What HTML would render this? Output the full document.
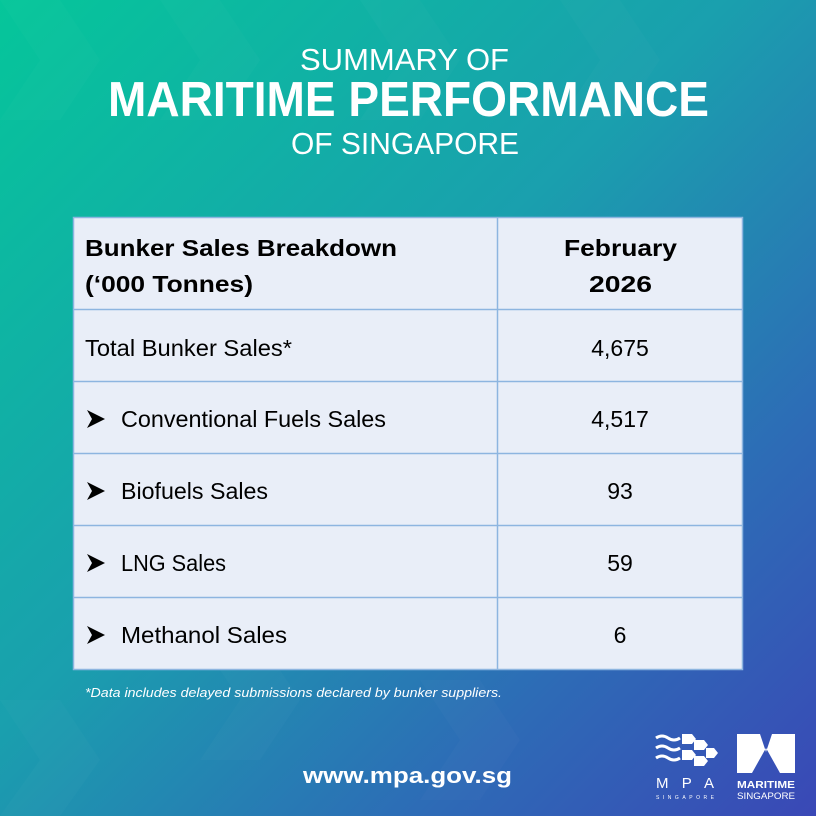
<!DOCTYPE html>
<html><head><meta charset="utf-8"><style>
html,body{margin:0;padding:0;width:816px;height:816px;overflow:hidden}
svg{display:block}
</style></head><body>
<svg width="816" height="816" viewBox="0 0 816 816" xmlns="http://www.w3.org/2000/svg">
<defs>
<linearGradient id="bg" x1="0" y1="0" x2="1" y2="1">
<stop offset="0" stop-color="#05c69a"/>
<stop offset="0.45" stop-color="#1a9fae"/>
<stop offset="0.75" stop-color="#2d6cb6"/>
<stop offset="1" stop-color="#3a48b6"/>
</linearGradient>
</defs>
<rect width="816" height="816" fill="url(#bg)"/>
<g fill="#ffffff" opacity="0.02">
<polygon points="0,0 60,0 100,60 60,120 0,120 40,60"/>
<polygon points="160,0 220,0 260,60 220,120 160,120 200,60"/>
<polygon points="360,0 420,0 460,60 420,120 360,120 400,60"/>
<polygon points="560,0 620,0 660,60 620,120 560,120 600,60"/>
<polygon points="0,700 60,700 100,760 60,816 0,816 40,760"/>
<polygon points="200,640 260,640 300,700 260,760 200,760 240,700"/>
<polygon points="420,680 480,680 520,740 480,800 420,800 460,740"/>
</g>
<g fill="#ffffff" font-family="Liberation Sans Narrow, Liberation Sans, sans-serif">
<text x="300" y="70" font-size="31" textLength="209" lengthAdjust="spacingAndGlyphs">SUMMARY OF</text>
<text x="108" y="116" font-size="49" font-weight="bold" textLength="601" lengthAdjust="spacingAndGlyphs">MARITIME PERFORMANCE</text>
<text x="291" y="154" font-size="31" textLength="228" lengthAdjust="spacingAndGlyphs">OF SINGAPORE</text>
</g>
<rect x="73.5" y="217.5" width="669" height="452" fill="#e9eef8" stroke="#8db5e0" stroke-width="1.5"/>
<g stroke="#8db5e0" stroke-width="1.5">
<line x1="497.5" y1="217" x2="497.5" y2="670"/>
<line x1="73" y1="309.5" x2="743" y2="309.5"/>
<line x1="73" y1="381.5" x2="743" y2="381.5"/>
<line x1="73" y1="453.5" x2="743" y2="453.5"/>
<line x1="73" y1="525.5" x2="743" y2="525.5"/>
<line x1="73" y1="597.5" x2="743" y2="597.5"/>
</g>
<g fill="#000" font-family="Liberation Sans, sans-serif" font-size="23">
<text x="85" y="256" font-weight="bold" textLength="312" lengthAdjust="spacingAndGlyphs">Bunker Sales Breakdown</text>
<text x="85" y="292" font-weight="bold" textLength="168" lengthAdjust="spacingAndGlyphs">(‘000 Tonnes)</text>
<text x="564" y="256" font-weight="bold" textLength="113" lengthAdjust="spacingAndGlyphs">February</text>
<text x="589" y="292" font-weight="bold" textLength="63" lengthAdjust="spacingAndGlyphs">2026</text>
<text x="85" y="356" textLength="207" lengthAdjust="spacingAndGlyphs">Total Bunker Sales*</text>
<text x="620" y="356" text-anchor="middle">4,675</text>
<text x="121" y="427" textLength="265" lengthAdjust="spacingAndGlyphs">Conventional Fuels Sales</text>
<text x="620" y="427" text-anchor="middle">4,517</text>
<text x="121" y="499" textLength="147" lengthAdjust="spacingAndGlyphs">Biofuels Sales</text>
<text x="620" y="499" text-anchor="middle">93</text>
<text x="121" y="571" textLength="105" lengthAdjust="spacingAndGlyphs">LNG Sales</text>
<text x="620" y="571" text-anchor="middle">59</text>
<text x="121" y="643" textLength="166" lengthAdjust="spacingAndGlyphs">Methanol Sales</text>
<text x="620" y="643" text-anchor="middle">6</text>
</g>
<g fill="#000">
<polygon points="87,410 105,419 87,428 92,419"/>
<polygon points="87,482 105,491 87,500 92,491"/>
<polygon points="87,554 105,563 87,572 92,563"/>
<polygon points="87,626 105,635 87,644 92,635"/>
</g>
<text x="85" y="697" fill="#fff" font-family="Liberation Sans Narrow, Liberation Sans, sans-serif" font-style="italic" font-size="13" textLength="417" lengthAdjust="spacingAndGlyphs">*Data includes delayed submissions declared by bunker suppliers.</text>
<text x="303" y="783" fill="#fff" font-family="Liberation Sans, sans-serif" font-weight="bold" font-size="22" textLength="209" lengthAdjust="spacingAndGlyphs">www.mpa.gov.sg</text>
<g stroke="#fff" stroke-width="3" fill="none">
<path d="M656,738 q6,-4 12,0 t12,0"/>
<path d="M656,748 q6,-4 12,0 t12,0"/>
<path d="M656,758 q6,-4 12,0 t12,0"/>
</g>
<g fill="#fff">
<polygon points="682,734 692,734 696,739 692,744 682,744"/>
<polygon points="694,740 704,740 708,745 704,750 694,750"/>
<polygon points="682,750 692,750 696,755 692,760 682,760"/>
<polygon points="694,756 704,756 708,761 704,766 694,766"/>
<polygon points="706,748 714,748 718,753 714,758 706,758"/>
<text x="656" y="788" font-family="Liberation Sans, sans-serif" font-size="15" textLength="58" lengthAdjust="spacing">MPA</text>
<text x="656" y="799" font-family="Liberation Sans, sans-serif" font-size="5" textLength="58" lengthAdjust="spacing">SINGAPORE</text>
<polygon points="737,734 760,734 766,752 772,734 795,734 795,773 780,773 766,748 752,773 737,773"/>
<text x="737" y="788" font-family="Liberation Sans, sans-serif" font-weight="bold" font-size="10" textLength="58" lengthAdjust="spacingAndGlyphs">MARITIME</text>
<text x="737" y="799" font-family="Liberation Sans, sans-serif" font-size="9" textLength="58" lengthAdjust="spacingAndGlyphs">SINGAPORE</text>
</g>
</svg>
</body></html>
